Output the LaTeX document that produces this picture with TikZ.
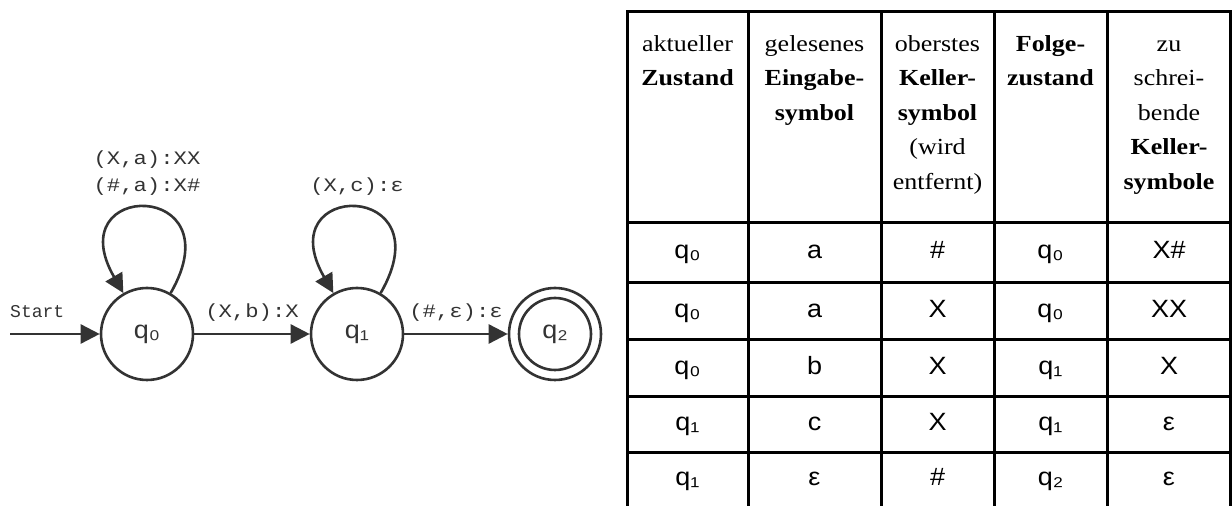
\documentclass[tikz,border=0pt]{standalone}
\usepackage{fontspec}
\setmainfont[FakeStretch=1.13]{Liberation Serif}
\newfontfamily\monofont[FakeStretch=1.17]{Liberation Mono}
\newfontfamily\startfont{Liberation Mono}
\newfontfamily\cellfont[FakeStretch=1.08]{Liberation Sans}
\usetikzlibrary{arrows.meta}
\definecolor{autoLine}{HTML}{333333}
\tikzset{
  state/.style={circle, draw=autoLine, line width=2.6pt, minimum size=92pt, inner sep=0pt,
    text=autoLine, font=\cellfont\fontsize{25}{28}\selectfont},
  edge/.style={draw=autoLine, line width=2.6pt, -{Triangle[length=19pt,width=19pt]}},
  edgelabel/.style={text=autoLine, align=center, font=\monofont\fontsize{19}{27}\selectfont},
  rule/.style={black, line width=3pt, line cap=rect},
  head/.style={align=center, anchor=north, inner sep=0pt, font=\fontsize{23}{34.5}\selectfont},
  cell/.style={anchor=base, font=\cellfont\fontsize{25}{28}\selectfont},
}

\begin{document}
\begin{tikzpicture}[x=1pt, y=1pt]
  \useasboundingbox (0,0) rectangle (1232,506);

  % automaton
  \node[state] (q0) at (147,172) {q₀};
  \node[state] (q1) at (357,172) {q₁};
  \node[state] (q2) at (555,172) {q₂};
  \draw[draw=autoLine, line width=2.6pt] (q2.center) circle[radius=36pt];

  \coordinate (start) at (10,172);
  \node[edgelabel, font=\startfont\fontsize{18}{22}\selectfont, anchor=base west, inner sep=0pt]
    (startlabel) at (10,188) {Start};
  \draw[edge] (start) -- (q0);

  \draw[edge] (q0) to[out=60, in=120, looseness=7.1]
    node[edgelabel, anchor=south, inner sep=0pt, yshift=11pt] {(X,a):XX\\(\#,a):X\#} (q0);
  \draw[edge] (q1) to[out=60, in=120, looseness=7.1]
    node[edgelabel, anchor=south, inner sep=0pt, yshift=11pt] {(X,c):ε} (q1);
  \draw[edge] (q0) -- node[edgelabel, anchor=base, yshift=16pt] {(X,b):X} (q1);
  \draw[edge] (q1) -- node[edgelabel, anchor=base, yshift=16pt] {(\#,ε):ε} (q2);

  % transition table
  \foreach \y in {494,283,223,166,109,53}
    \draw[rule] (627,\y) -- (1230,\y);
  \foreach \x in {627,748,881,994,1107,1230}
    \draw[rule] (\x,494) -- (\x,0);

  \node[head] (h1) at (687.5,479) {\strut aktueller\\\textbf{Zustand}};
  \node[head] (h2) at (814.5,479) {\strut gelesenes\\\textbf{Eingabe-}\\\textbf{symbol}};
  \node[head] (h3) at (937.5,479) {\strut oberstes\\\textbf{Keller-}\\\textbf{symbol}\\(wird\\entfernt)};
  \node[head] (h4) at (1050.5,479) {\strut\textbf{Folge-}\\\textbf{zustand}};
  \node[head] (h5) at (1169,479) {\strut zu\\schrei-\\bende\\\textbf{Keller-}\\\textbf{symbole}};

  \foreach \y/\a/\b/\c/\d/\e [count=\r] in {
      247/q₀/a/\#/q₀/X\#,
      188.5/q₀/a/X/q₀/XX,
      131.5/q₀/b/X/q₁/X,
      75/q₁/c/X/q₁/ε,
      20.5/q₁/ε/\#/q₂/ε} {
    \node[cell] (c\r-1) at (687.5,\y) {\a};
    \node[cell] (c\r-2) at (814.5,\y) {\b};
    \node[cell] (c\r-3) at (937.5,\y) {\c};
    \node[cell] (c\r-4) at (1050.5,\y) {\d};
    \node[cell] (c\r-5) at (1169,\y) {\e};
  }
\end{tikzpicture}
\end{document}
